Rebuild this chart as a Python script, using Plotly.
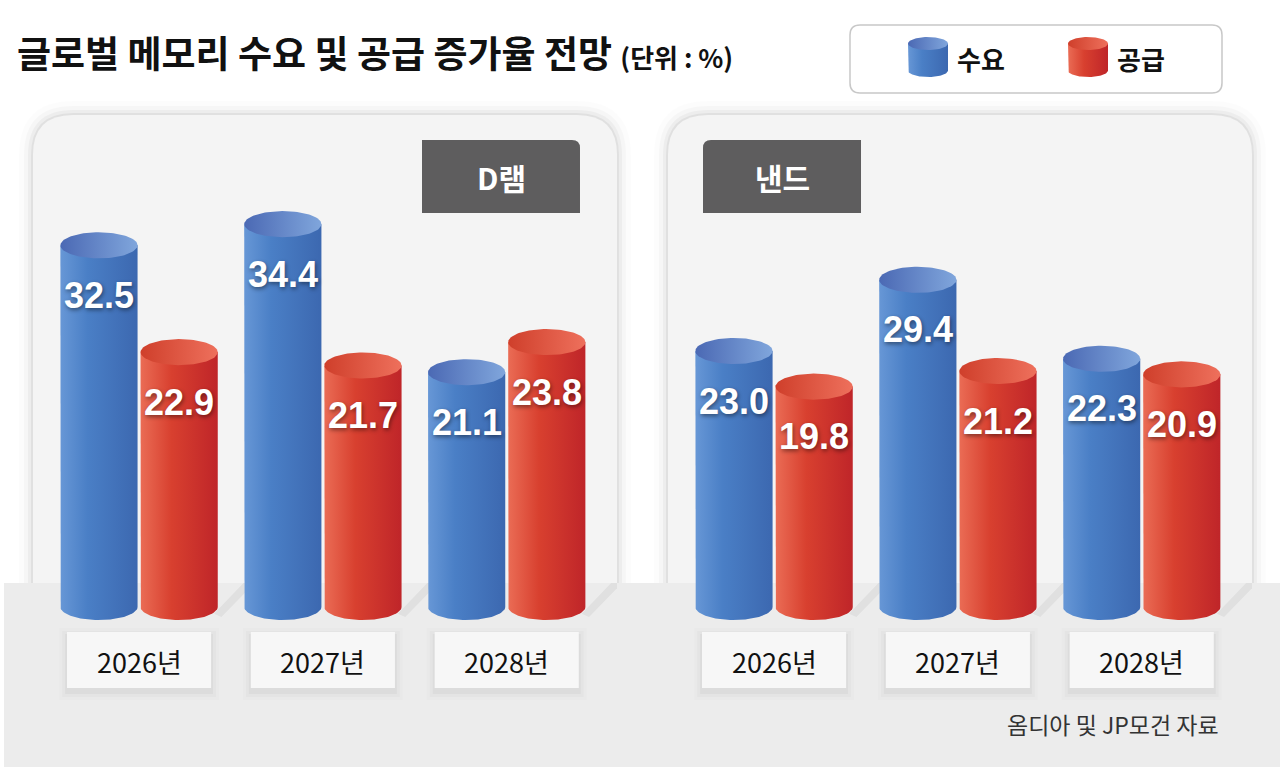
import numpy as np
import plotly.graph_objects as go

# data (growth rate, %)
years = ["2026년", "2027년", "2028년"]
series_names = ["수요", "공급"]
dram_demand = [32.5, 34.4, 21.1]
dram_supply = [22.9, 21.7, 23.8]
nand_demand = [23.0, 29.4, 22.3]
nand_supply = [19.8, 21.2, 20.9]
panel_names = ["D램", "낸드"]

W, H = 1280, 769
KR = "Noto Sans CJK KR"

BLUE_BODY = [[0, "#6797d6"], [0.35, "#4a7fc6"], [1, "#3c68b0"]]
BLUE_TOP = [[0, "#4b69b4"], [1, "#80a6dc"]]
RED_BODY = [[0, "#ea6c55"], [0.4, "#d8402f"], [1, "#bf2529"]]
RED_TOP = [[0, "#cf3f2b"], [1, "#ee705c"]]

Y_RANGE = [-14.56, 54.54]     # baseline sits at 607px
X_RANGE = [-0.577, 2.6]
BAR_HW = 0.21                 # half width of a cylinder, x units
ELL_H = 1.17                  # half height of the cylinder ellipse, y units
OFFSET = 0.218
FLOOR_Y = 2.16                # floor edge (583px) in y units


def px(x, y):
    return x / W, 1 - y / H


def rounded_path(x0, y0, x1, y1, r_tl=0, r_tr=0, r_br=0, r_bl=0):
    """rounded rectangle path in paper coords, input in pixels"""
    def p(x, y):
        a, b = px(x, y)
        return f"{a:.5f},{b:.5f}"
    d = f"M{p(x0 + r_tl, y0)} L{p(x1 - r_tr, y0)} Q{p(x1, y0)} {p(x1, y0 + r_tr)} "
    d += f"L{p(x1, y1 - r_br)} Q{p(x1, y1)} {p(x1 - r_br, y1)} "
    d += f"L{p(x0 + r_bl, y1)} Q{p(x0, y1)} {p(x0, y1 - r_bl)} "
    d += f"L{p(x0, y0 + r_tl)} Q{p(x0, y0)} {p(x0 + r_tl, y0)} Z"
    return d


def cylinder(xc, val, hw, eh, body, top, xa, ya, base=0, n=48):
    t = np.linspace(0, np.pi, n)
    bx = np.concatenate([[xc - hw, xc - hw], xc - hw * np.cos(t), [xc + hw, xc - hw]])
    by = base + np.concatenate([[val, 0], -eh * np.sin(t), [val, val]])
    s = np.linspace(0, 2 * np.pi, 2 * n)
    tx = xc + hw * np.cos(s)
    ty = base + val + eh * np.sin(s)
    common = dict(mode="lines", line=dict(width=0), fill="toself", hoverinfo="skip",
                  showlegend=False, xaxis=xa, yaxis=ya)
    return [go.Scatter(x=bx, y=by, fillgradient=dict(type="horizontal", colorscale=body), **common),
            go.Scatter(x=tx, y=ty, fillgradient=dict(type="horizontal", colorscale=top), **common)]


def text(s, x, y, size, color="#111", xref="paper", yref="paper", xanchor="center", **font):
    return dict(text=s, xref=xref, yref=yref, x=x, y=y, xanchor=xanchor, yanchor="middle",
                showarrow=False, font=dict(family=font.pop("family", KR), size=size, color=color, **font))


fig = go.Figure()
shapes, annotations = [], []

# floor
shapes.append(dict(type="rect", xref="paper", yref="paper", layer="below",
                   x0=4 / W, x1=1, y0=1 - 767 / H, y1=1 - 583 / H,
                   fillcolor="#ececec", line_width=0))

panels = [
    dict(x0=33, x1=617, demand=dram_demand, supply=dram_supply, xa="x", ya="y",
         hdr=(422, 580), r=(0, 8)),
    dict(x0=668, x1=1252, demand=nand_demand, supply=nand_supply, xa="x2", ya="y2",
         hdr=(703, 861), r=(8, 0)),
]

for i, p in enumerate(panels):
    # soft shadow + panel background
    for k, a in [(14, 0.012), (9, 0.022), (5, 0.035), (2, 0.05)]:
        shapes.append(dict(type="path", xref="paper", yref="paper", layer="below",
                           path=rounded_path(p["x0"] - k, 115 - k, p["x1"] + k, 583, 40 + k, 40 + k),
                           fillcolor=f"rgba(0,0,0,{a})", line_width=0))
    shapes.append(dict(type="path", xref="paper", yref="paper", layer="below",
                       path=rounded_path(p["x0"], 115, p["x1"], 583, 40, 40),
                       fillcolor="#f4f4f4", line_width=0))
    # panel header
    h0, h1 = p["hdr"]
    shapes.append(dict(type="path", xref="paper", yref="paper", layer="below",
                       path=rounded_path(h0, 140, h1, 213, p["r"][0], p["r"][1]),
                       fillcolor="#5e5d5e", line_width=0))
    annotations.append(text(f"<b>{panel_names[i]}</b>", (h0 + h1) / 2 / W, 1 - 177 / H,
                            30, color="white"))

    xa, ya = p["xa"], p["ya"]
    for j, yr in enumerate(years):
        # year label box with soft shadow
        for k, a in [(8, 0.012), (5, 0.02), (2, 0.03)]:
            shapes.append(dict(type="rect", xref=xa, yref="paper", layer="below",
                               x0=j - 0.392 - k / 184, x1=j + 0.392 + k / 184,
                               y0=1 - (688 + k + 4) / H, y1=1 - (632 - k + 4) / H,
                               fillcolor=f"rgba(0,0,0,{a})", line_width=0))
        shapes.append(dict(type="rect", xref=xa, yref="paper", layer="below",
                           x0=j - 0.392, x1=j + 0.392, y0=1 - 688 / H, y1=1 - 632 / H,
                           fillcolor="#f7f7f7", line_width=0))
        annotations.append(text(yr, j, 1 - 661 / H, 27, xref=xa))

        # cast shadow of the group on the floor
        xr = j + OFFSET + BAR_HW
        fig.add_trace(go.Scatter(x=[xr - 0.02, xr + 0.14, xr + 0.2, xr + 0.02],
                                 y=[-0.6, FLOOR_Y, FLOOR_Y, -0.9], fill="toself",
                                 mode="lines", line=dict(width=0), fillcolor="rgba(0,0,0,0.05)",
                                 hoverinfo="skip", showlegend=False, xaxis=xa, yaxis=ya))

        for val, dx, body, top in [(p["demand"][j], -OFFSET, BLUE_BODY, BLUE_TOP),
                                   (p["supply"][j], OFFSET, RED_BODY, RED_TOP)]:
            for tr in cylinder(j + dx, val, BAR_HW, ELL_H, body, top, xa, ya):
                fig.add_trace(tr)
            annotations.append(text(f"<b>{val:.1f}</b>", j + dx, val - 4.5, 36, color="white",
                                    xref=xa, yref=ya, family="Liberation Sans",
                                    shadow="1px 2px 4px rgba(0,0,0,0.45)"))

# legend box
shapes.append(dict(type="path", xref="paper", yref="paper", layer="below",
                   path=rounded_path(850, 25, 1222, 93, 10, 10, 10, 10),
                   fillcolor="white", line=dict(color="#c8c8c8", width=1.5)))
leg_x = [928, 1088]
for k, (name, body, top) in enumerate(zip(series_names, [BLUE_BODY, RED_BODY], [BLUE_TOP, RED_TOP])):
    # icon drawn on a pixel-scaled overlay axis (y measured from bottom)
    for tr in cylinder(leg_x[k], 27, 20, 6.5, body, top, "x3", "y3", base=H - 70.5):
        fig.add_trace(tr)
    annotations.append(text(f"<b>{name}</b>", (leg_x[k] + 27) / W, 1 - 58 / H, 26,
                            xanchor="left"))

# title
annotations.append(text("<b>글로벌 메모리 수요 및 공급 증가율 전망</b> "
                        "<span style='font-size:26px'><b>(단위 : %)</b></span>",
                        15 / W, 1 - 52 / H, 37, xanchor="left"))
# source
annotations.append(text("옴디아 및 JP모건 자료", 1221 / W, 1 - 724 / H, 23,
                        color="#333", xanchor="right"))

hidden = dict(visible=False, fixedrange=True)
fig.update_layout(
    width=W, height=H, margin=dict(l=0, r=0, t=0, b=0),
    paper_bgcolor="white", plot_bgcolor="rgba(0,0,0,0)",
    xaxis=dict(domain=[33 / W, 617 / W], range=X_RANGE, anchor="y", **hidden),
    yaxis=dict(domain=[0, 1], range=Y_RANGE, anchor="x", **hidden),
    xaxis2=dict(domain=[668 / W, 1252 / W], range=X_RANGE, anchor="y2", **hidden),
    yaxis2=dict(domain=[0, 1], range=Y_RANGE, anchor="x2", **hidden),
    xaxis3=dict(domain=[0, 1], range=[0, W], anchor="y3", **hidden),
    yaxis3=dict(domain=[0, 1], range=[0, H], anchor="x3", **hidden),
    shapes=shapes, annotations=annotations, showlegend=False,
)

fig.write_html("out.html", config={"displayModeBar": False},
               post_script="document.body.style.margin='0px';")
